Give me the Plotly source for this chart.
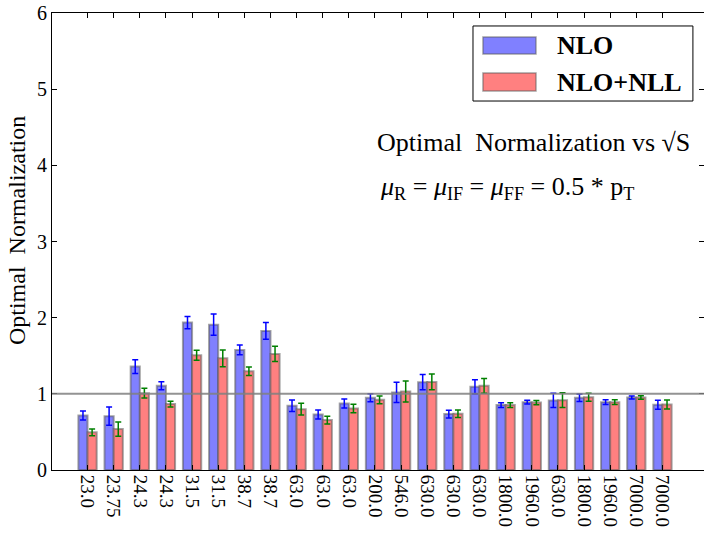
import plotly.graph_objects as go

labels = ["23.0", "23.75", "24.3", "24.3", "31.5", "31.5", "38.7", "38.7", "63.0", "63.0", "63.0",
          "200.0", "546.0", "630.0", "630.0", "630.0", "1800.0", "1960.0", "630.0", "1800.0",
          "1960.0", "7000.0", "7000.0"]
nlo = [0.716, 0.707, 1.358, 1.105, 1.935, 1.908, 1.576, 1.825, 0.843, 0.729, 0.873, 0.948,
       1.018, 1.153, 0.734, 1.092, 0.852, 0.891, 0.913, 0.948, 0.891, 0.952, 0.856]
nlo_err = [0.06, 0.12, 0.09, 0.053, 0.08, 0.14, 0.064, 0.11, 0.075, 0.06, 0.06, 0.052,
           0.133, 0.1, 0.05, 0.092, 0.03, 0.026, 0.094, 0.05, 0.03, 0.02, 0.06]
nll = [0.494, 0.537, 1.009, 0.865, 1.507, 1.467, 1.297, 1.524, 0.799, 0.655, 0.808, 0.921,
       1.031, 1.157, 0.738, 1.105, 0.852, 0.886, 0.917, 0.956, 0.891, 0.952, 0.86]
nll_err = [0.045, 0.094, 0.065, 0.037, 0.066, 0.11, 0.055, 0.1, 0.078, 0.052, 0.055, 0.05,
           0.137, 0.105, 0.05, 0.096, 0.03, 0.028, 0.096, 0.052, 0.03, 0.024, 0.06]
series_names = ["NLO", "NLO+NLL"]

xpos = list(range(len(labels)))
FONT = "Liberation Serif"
EDGE = "rgba(90,90,90,0.55)"

fig = go.Figure()
fig.add_trace(go.Bar(
    x=xpos, y=nlo, name=series_names[0],
    marker=dict(color="#8080ff", line=dict(color=EDGE, width=2)),
    error_y=dict(type="data", array=nlo_err, color="#0000ff", thickness=1.5, width=3),
    showlegend=False,
))
fig.add_trace(go.Bar(
    x=xpos, y=nll, name=series_names[1],
    marker=dict(color="#ff8080", line=dict(color=EDGE, width=2)),
    error_y=dict(type="data", array=nll_err, color="#008000", thickness=1.5, width=3),
    showlegend=False,
))

shapes = [
    dict(type="line", xref="paper", yref="y", x0=0, x1=1, y0=1, y1=1,
         line=dict(color="rgba(128,128,128,0.85)", width=2), layer="above"),
    # legend box
    dict(type="rect", xref="paper", yref="paper", x0=0.6457, x1=0.983, y0=0.8074, y1=0.9716,
         line=dict(color="black", width=1), fillcolor="white", layer="above"),
    dict(type="rect", xref="paper", yref="paper", x0=0.661, x1=0.7423, y0=0.9103, y1=0.9475,
         line=dict(color=EDGE, width=1.5), fillcolor="#8080ff", layer="above"),
    dict(type="rect", xref="paper", yref="paper", x0=0.661, x1=0.7423, y0=0.8293, y1=0.8687,
         line=dict(color=EDGE, width=1.5), fillcolor="#ff8080", layer="above"),
]

annotations = [
    dict(text="<b>NLO</b>", xref="paper", yref="paper", x=0.7715, y=0.9278,
         xanchor="left", yanchor="middle", showarrow=False,
         font=dict(family=FONT, size=26, color="black")),
    dict(text="<b>NLO+NLL</b>", xref="paper", yref="paper", x=0.7715, y=0.849,
         xanchor="left", yanchor="middle", showarrow=False,
         font=dict(family=FONT, size=26, color="black")),
    dict(text="Optimal  Normalization vs √S", xref="paper", yref="paper", x=0.4954, y=0.7177,
         xanchor="left", yanchor="middle", showarrow=False,
         font=dict(family=FONT, size=26, color="black")),
    dict(text="<i>μ</i><sub>R</sub> = <i>μ</i><sub>IF</sub> = <i>μ</i><sub>FF</sub> = 0.5 * p<sub>T</sub>",
         xref="paper", yref="paper", x=0.5, y=0.617,
         xanchor="left", yanchor="middle", showarrow=False,
         font=dict(family=FONT, size=26, color="black")),
    dict(text="Optimal  Normalization", xref="paper", yref="paper", x=-0.0537, y=0.525,
         xanchor="center", yanchor="middle", textangle=-90, showarrow=False,
         font=dict(family=FONT, size=24, color="black")),
]

fig.update_layout(
    width=704, height=535,
    margin=dict(l=52, r=0, t=13, b=65, pad=0),
    paper_bgcolor="white", plot_bgcolor="white",
    barmode="group", bargap=0.3, bargroupgap=0,
    shapes=shapes, annotations=annotations,
    font=dict(family=FONT, size=20, color="black"),
    xaxis=dict(range=[-1.36, 23.59], tickmode="array", tickvals=xpos, ticktext=labels,
               tickangle=90, ticks="inside", ticklen=5, tickcolor="black",
               showline=True, linecolor="black", linewidth=1, mirror="ticks",
               showgrid=False, zeroline=False, tickfont=dict(family=FONT, size=19)),
    yaxis=dict(range=[0, 6], dtick=1, ticks="inside", ticklen=5, tickcolor="black",
               showline=True, linecolor="black", linewidth=1, mirror="ticks",
               showgrid=False, zeroline=False, tickfont=dict(family=FONT, size=20)),
)

fig.write_html("out.html")
